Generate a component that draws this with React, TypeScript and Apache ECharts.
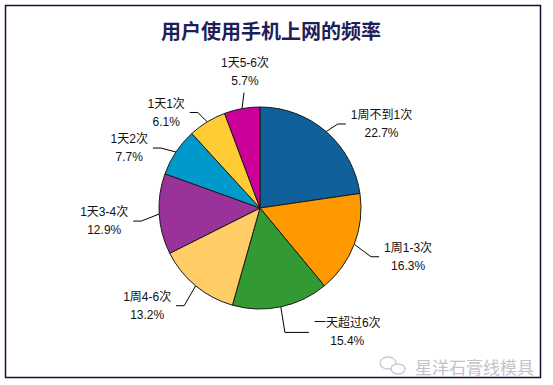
import React, { useEffect, useRef } from "react";
import * as echarts from "echarts";

const titleText = "用户使用手机上网的频率";
const categories = [
  "1周不到1次",
  "1周1-3次",
  "一天超过6次",
  "1周4-6次",
  "1天3-4次",
  "1天2次",
  "1天1次",
  "1天5-6次",
];
const values = [22.7, 16.3, 15.4, 13.2, 12.9, 7.7, 6.1, 5.7];
const colors = [
  "#10609c",
  "#ff9900",
  "#339933",
  "#ffcc66",
  "#993399",
  "#0099cc",
  "#ffcc33",
  "#cc0099",
];
const watermark = "星洋石膏线模具";

export default function App() {
  const ref = useRef<HTMLDivElement>(null);
  useEffect(() => {
    if (!ref.current) return;
    const chart = echarts.init(ref.current, null, { renderer: "svg" });
    const lastIdx = categories.length - 1;
    chart.setOption({
      animation: false,
      backgroundColor: "#ffffff",
      title: {
        text: titleText,
        left: 266,
        top: 15,
        textAlign: "center",
        textStyle: {
          fontSize: 20,
          fontWeight: "bold",
          color: "#1e1e5a",
          fontFamily: "Noto Sans CJK SC",
        },
      },
      graphic: [
        {
          type: "rect",
          shape: { x: 5.5, y: 5.5, width: 535, height: 372 },
          style: { fill: "none", stroke: "#10103a", lineWidth: 1.5 },
          silent: true,
        },
        {
          type: "text",
          x: 415,
          y: 366,
          style: {
            text: watermark,
            fontSize: 17,
            fill: "#c4c4c4",
            fontFamily: "Noto Sans CJK SC",
            verticalAlign: "middle",
          },
          silent: true,
        },
        {
          type: "ellipse",
          shape: { cx: 388, cy: 363, rx: 8, ry: 6 },
          style: { fill: "none", stroke: "#cccccc", lineWidth: 1.5 },
          silent: true,
        },
        {
          type: "ellipse",
          shape: { cx: 398, cy: 369, rx: 7, ry: 5 },
          style: { fill: "#ffffff", stroke: "#cccccc", lineWidth: 1.5 },
          silent: true,
        },
      ],
      series: [
        {
          type: "pie",
          center: [260, 208],
          radius: 101,
          startAngle: 90,
          clockwise: true,
          avoidLabelOverlap: false,
          data: categories.map((name, i) => ({
            name,
            value: values[i],
            itemStyle: { color: colors[i] },
            labelLine:
              i === 2 ? { length: 20, length2: 24 } : undefined,
          })),
          itemStyle: { borderColor: "#1a1a1a", borderWidth: 1 },
          label: {
            show: true,
            position: "outside",
            formatter: (p: any) => `{n|${p.name}}\n{p|${p.value.toFixed(1)}%}`,
            fontSize: 12,
            color: "#111111",
            fontFamily: "Liberation Sans, Arial, Noto Sans CJK SC",
            lineHeight: 18,
            rich: {
              n: { align: "center", fontSize: 12, lineHeight: 18, color: "#111111" },
              p: { align: "center", fontSize: 12, lineHeight: 18, color: "#111111" },
            },
          },
          labelLine: {
            show: true,
            length: 18,
            length2: 8,
            lineStyle: { color: "#000000", width: 1 },
          },
          labelLayout: (params: any) => {
            const pts = params.labelLinePoints;
            if (!pts) return { hideOverlap: false };
            const p0 = pts[0];
            if (params.dataIndex === lastIdx) {
              const top = p0[1] - 16;
              return {
                hideOverlap: false,
                x: p0[0] + 3,
                y: top - 3,
                align: "center",
                verticalAlign: "bottom",
                labelLinePoints: [p0, [p0[0] + 2, top], [p0[0] + 2, top]],
              };
            }
            const dy = 6;
            return {
              hideOverlap: false,
              dy,
              labelLinePoints: [
                p0,
                [pts[1][0], pts[1][1] + dy],
                [pts[2][0], pts[2][1] + dy],
              ],
            };
          },
          emphasis: { disabled: true },
        },
      ],
    });
    return () => chart.dispose();
  }, []);
  return (
    <div
      ref={ref}
      style={{ position: "fixed", left: 0, top: 0, width: 553, height: 385 }}
    />
  );
}
